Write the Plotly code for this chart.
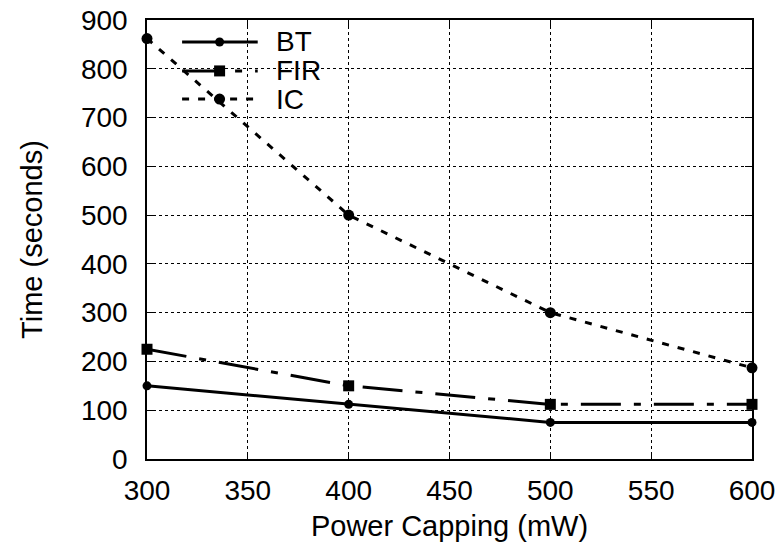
import plotly.graph_objects as go

# Power cap settings (mW) and run times (seconds) per benchmark
power_cap = [300, 400, 500, 600]
bt_time = [150, 112, 75, 75]
fir_time = [225, 150, 112, 112]
ic_time = [862, 500, 300, 187]

series_names = ["BT", "FIR", "IC"]
x_ticks = [300, 350, 400, 450, 500, 550, 600]
y_ticks = [0, 100, 200, 300, 400, 500, 600, 700, 800, 900]

FONT = "Liberation Sans, Arial, Helvetica, sans-serif"
styles = {
    "BT": dict(dash="solid", symbol="circle", size=9, shape="circle"),
    "FIR": dict(dash="40px,13px,7px,13px", symbol="square", size=11, shape="rect"),
    "IC": dict(dash="7px,9px", symbol="circle", size=11, shape="circle"),
}

fig = go.Figure()
for name, ys in zip(series_names, [bt_time, fir_time, ic_time]):
    st = styles[name]
    fig.add_trace(go.Scatter(
        x=power_cap, y=ys, name=name, mode="lines+markers",
        line=dict(color="black", width=3, dash=st["dash"]),
        marker=dict(color="black", symbol=st["symbol"], size=st["size"]),
        cliponaxis=False, showlegend=False,
    ))

# Key box in the upper-left corner: white panel hides the grid behind it
shapes = [dict(type="rect", xref="paper", yref="paper", x0=0.026, x1=0.298,
               y0=0.785, y1=1.0, fillcolor="white", line=dict(width=0),
               layer="between")]
annotations = []
row_y = [0.950, 0.884, 0.820]
for name, yy in zip(series_names, row_y):
    st = styles[name]
    shapes.append(dict(type="line", xref="paper", yref="paper", x0=0.058, x1=0.183,
                       y0=yy, y1=yy, line=dict(color="black", width=3, dash=st["dash"]),
                       layer="above"))
    r = st["size"] / 2
    shapes.append(dict(type=st["shape"], xref="paper", yref="paper",
                       xsizemode="pixel", ysizemode="pixel", xanchor=0.120, yanchor=yy,
                       x0=-r, x1=r, y0=-r, y1=r, fillcolor="black",
                       line=dict(color="black", width=0), layer="above"))
    annotations.append(dict(text=name, xref="paper", yref="paper", x=0.211, y=yy,
                            xanchor="left", yanchor="middle", showarrow=False,
                            height=27, borderpad=0,
                            font=dict(family=FONT, size=28, color="black")))

axis_common = dict(
    showline=True, linecolor="black", linewidth=1.5, mirror="ticks",
    ticks="inside", ticklen=7, tickwidth=1, tickcolor="black",
    showgrid=True, gridcolor="black", gridwidth=1, griddash="dot",
    zeroline=False, automargin=False,
    tickfont=dict(family=FONT, size=28, color="black"),
)

fig.update_layout(
    width=784, height=546,
    margin=dict(l=147, r=32, t=20, b=87),
    paper_bgcolor="white", plot_bgcolor="white",
    font=dict(family=FONT, color="black"),
    shapes=shapes, annotations=annotations,
    xaxis=dict(range=[300, 600], tickvals=x_ticks, ticklabelstandoff=6,
               title=dict(text="Power Capping (mW)", font=dict(family=FONT, size=29), standoff=10),
               **axis_common),
    yaxis=dict(range=[0, 900], tickvals=y_ticks, ticklabelstandoff=12,
               title=dict(text="Time (seconds)", font=dict(family=FONT, size=29), standoff=30),
               **axis_common),
)

fig.write_html("out.html")
